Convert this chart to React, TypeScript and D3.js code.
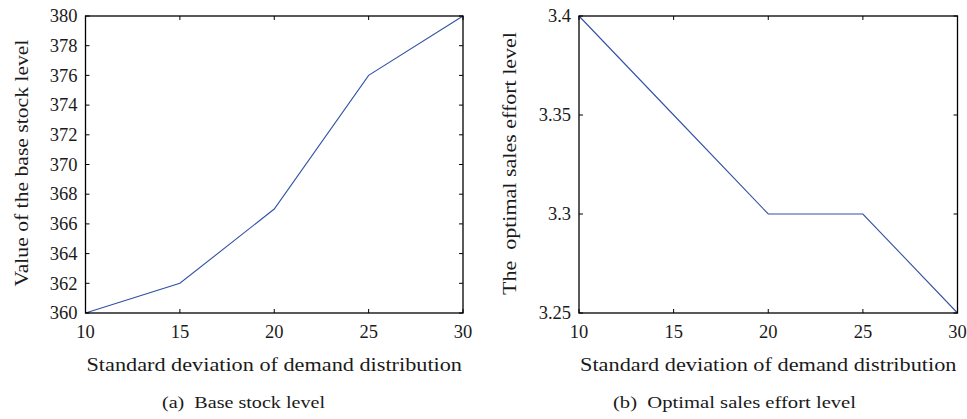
import React from "react";
import * as d3 from "d3";

const sigma = [10, 15, 20, 25, 30];
const baseStock = [360, 362, 367, 376, 380];
const salesEffort = [3.4, 3.35, 3.3, 3.3, 3.25];
const xTicks = [10, 15, 20, 25, 30];
const yTicksA = [360, 362, 364, 366, 368, 370, 372, 374, 376, 378, 380];
const yTicksB = [3.25, 3.3, 3.35, 3.4];
const yTickLabelsB = ["3.25", "3.3", "3.35", "3.4"];

const FONT = "'Liberation Serif', 'DejaVu Serif', serif";
const LINE = "#3352a3";

type PanelProps = {
  x0: number;
  x1: number;
  y0: number;
  y1: number;
  ys: number[];
  yDomain: [number, number];
  yTicks: number[];
  yLabels: string[];
  yTitle: string;
  yTitleX: number;
  yTitleCy: number;
  yTitleLen: number;
  caption: string;
  captionX: number;
  captionLen: number;
};

function Panel(p: PanelProps) {
  const xs = d3.scaleLinear().domain([10, 30]).range([p.x0, p.x1]);
  const ys = d3.scaleLinear().domain(p.yDomain).range([p.y1, p.y0]);
  const line = d3
    .line<number>()
    .x((_, i) => xs(sigma[i]))
    .y((d) => ys(d));
  const tl = 4;
  return (
    <g fontFamily={FONT} fill="#1a1a1a">
      <path d={line(p.ys) || ""} fill="none" stroke={LINE} strokeWidth={1.1} />
      <rect x={p.x0} y={p.y0} width={p.x1 - p.x0} height={p.y1 - p.y0} fill="none" stroke="#000" strokeWidth={1.3} />
      {xTicks.map((t) => (
        <g key={"x" + t}>
          <line x1={xs(t)} x2={xs(t)} y1={p.y1} y2={p.y1 - tl} stroke="#000" />
          <line x1={xs(t)} x2={xs(t)} y1={p.y0} y2={p.y0 + tl} stroke="#000" />
          <text x={xs(t)} y={338} textAnchor="middle" fontSize={18.5}>
            {t}
          </text>
        </g>
      ))}
      {p.yTicks.map((t, i) => (
        <g key={"y" + t}>
          <line x1={p.x0} x2={p.x0 + tl} y1={ys(t)} y2={ys(t)} stroke="#000" />
          <line x1={p.x1} x2={p.x1 - tl} y1={ys(t)} y2={ys(t)} stroke="#000" />
          <text x={p.x0 - 8} y={ys(t)} dy="0.34em" textAnchor="end" fontSize={18.5}>
            {p.yLabels[i]}
          </text>
        </g>
      ))}
      <text x={(p.x0 + p.x1) / 2} y={371} textAnchor="middle" fontSize={18} textLength={p.x1 - p.x0 - 2} lengthAdjust="spacingAndGlyphs">
        Standard deviation of demand distribution
      </text>
      <text
        transform={`translate(${p.yTitleX},${p.yTitleCy}) rotate(-90)`}
        textAnchor="middle"
        fontSize={18}
        textLength={p.yTitleLen}
        lengthAdjust="spacingAndGlyphs"
        style={{ whiteSpace: "pre" }}
      >
        {p.yTitle}
      </text>
      <text x={p.captionX} y={408} textAnchor="middle" fontSize={16} textLength={p.captionLen} lengthAdjust="spacingAndGlyphs" style={{ whiteSpace: "pre" }}>
        {p.caption}
      </text>
    </g>
  );
}

export default function App() {
  return (
    <svg width={967} height={419} style={{ position: "absolute", left: 0, top: 0, background: "#fff" }}>
      <rect width={967} height={419} fill="#fff" />
      <Panel
        x0={85.5}
        x1={463}
        y0={16}
        y1={313}
        ys={baseStock}
        yDomain={[360, 380]}
        yTicks={yTicksA}
        yLabels={yTicksA.map(String)}
        yTitle="Value of the base stock level"
        yTitleX={28}
        yTitleCy={163}
        yTitleLen={247}
        caption="(a)  Base stock level"
        captionX={243.5}
        captionLen={163}
      />
      <Panel
        x0={579}
        x1={957.5}
        y0={16}
        y1={313}
        ys={salesEffort}
        yDomain={[3.25, 3.4]}
        yTicks={yTicksB}
        yLabels={yTickLabelsB}
        yTitle={"The  optimal sales effort level"}
        yTitleX={516}
        yTitleCy={163.5}
        yTitleLen={263}
        caption="(b)  Optimal sales effort level"
        captionX={734.5}
        captionLen={243}
      />
    </svg>
  );
}
